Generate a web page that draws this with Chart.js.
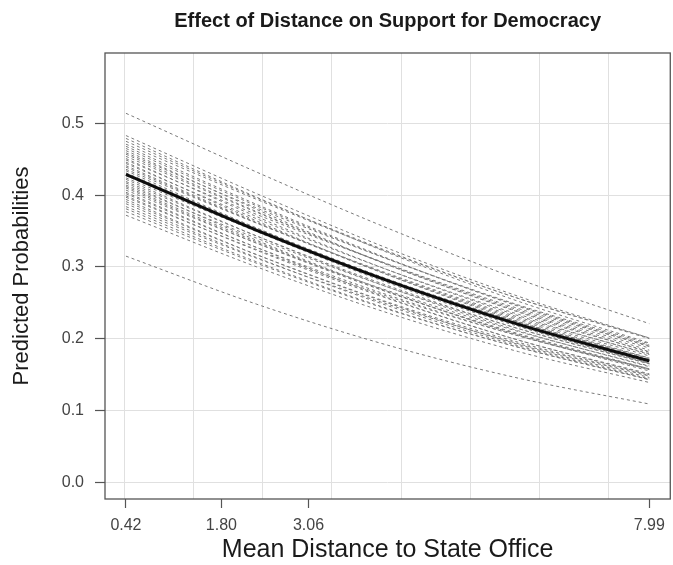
<!DOCTYPE html>
<html>
<head>
<meta charset="utf-8">
<script src="https://cdn.jsdelivr.net/npm/chart.js@4.4.1/dist/chart.umd.min.js"></script>
<style>
  html, body { margin: 0; padding: 0; background: #ffffff; }
  #wrap { width: 673px; height: 565px; position: relative; }
</style>
</head>
<body>
<div id="wrap"><canvas id="c" width="673" height="565"></canvas></div>
<script>
// ---- data ----
const chartTitle = "Effect of Distance on Support for Democracy";
const xAxisTitle = "Mean Distance to State Office";
const yAxisTitle = "Predicted Probabilities";

const xPoints = [0.42, 2.3125, 4.205, 6.0975, 7.99];
const meanProbabilities = [0.429, 0.351, 0.281, 0.220, 0.169];

const simulatedProbabilities = [
  [0.514, 0.432, 0.354, 0.283, 0.221],
  [0.483, 0.402, 0.326, 0.259, 0.201],
  [0.479, 0.397, 0.320, 0.252, 0.194],
  [0.475, 0.396, 0.322, 0.256, 0.200],
  [0.471, 0.394, 0.321, 0.256, 0.201],
  [0.468, 0.387, 0.312, 0.245, 0.189],
  [0.465, 0.385, 0.311, 0.246, 0.191],
  [0.462, 0.380, 0.303, 0.237, 0.181],
  [0.459, 0.382, 0.311, 0.247, 0.193],
  [0.457, 0.377, 0.303, 0.238, 0.184],
  [0.454, 0.376, 0.304, 0.240, 0.187],
  [0.451, 0.370, 0.296, 0.232, 0.178],
  [0.449, 0.373, 0.304, 0.242, 0.190],
  [0.446, 0.364, 0.289, 0.224, 0.170],
  [0.444, 0.367, 0.296, 0.234, 0.182],
  [0.441, 0.362, 0.289, 0.226, 0.173],
  [0.439, 0.361, 0.290, 0.228, 0.176],
  [0.436, 0.361, 0.291, 0.230, 0.179],
  [0.434, 0.354, 0.281, 0.218, 0.166],
  [0.431, 0.354, 0.283, 0.222, 0.170],
  [0.429, 0.353, 0.283, 0.223, 0.172],
  [0.427, 0.349, 0.278, 0.217, 0.166],
  [0.424, 0.350, 0.282, 0.223, 0.173],
  [0.422, 0.343, 0.272, 0.211, 0.161],
  [0.419, 0.343, 0.274, 0.214, 0.165],
  [0.417, 0.337, 0.266, 0.205, 0.155],
  [0.414, 0.340, 0.272, 0.214, 0.165],
  [0.412, 0.335, 0.265, 0.206, 0.157],
  [0.410, 0.333, 0.265, 0.207, 0.158],
  [0.407, 0.333, 0.267, 0.210, 0.162],
  [0.404, 0.327, 0.257, 0.198, 0.150],
  [0.402, 0.327, 0.261, 0.204, 0.157],
  [0.399, 0.323, 0.256, 0.198, 0.151],
  [0.397, 0.324, 0.259, 0.204, 0.158],
  [0.394, 0.317, 0.250, 0.192, 0.146],
  [0.391, 0.317, 0.251, 0.195, 0.149],
  [0.388, 0.313, 0.246, 0.190, 0.144],
  [0.384, 0.312, 0.248, 0.193, 0.148],
  [0.381, 0.307, 0.242, 0.188, 0.143],
  [0.377, 0.305, 0.241, 0.188, 0.143],
  [0.372, 0.300, 0.236, 0.182, 0.139],
  [0.315, 0.248, 0.191, 0.145, 0.109]
];

const xTickValues = [0.42, 1.80, 3.06, 7.99];
const xGridValues = [0.4, 1.4, 2.4, 3.4, 4.4, 5.4, 6.4, 7.4];
const yTickValues = [0.0, 0.1, 0.2, 0.3, 0.4, 0.5];
const xRange = [0.117, 8.293];
const yRange = [-0.0233, 0.598];

// ---- build datasets ----
function toPoints(vals) { return xPoints.map((x, i) => ({ x: x, y: vals[i] })); }

const datasets = [{
  label: 'Mean',
  data: toPoints(meanProbabilities),
  borderColor: '#0d0d0d',
  borderWidth: 3,
  pointRadius: 0,
  cubicInterpolationMode: 'monotone',
  order: 0
}];
simulatedProbabilities.forEach((s, i) => {
  datasets.push({
    label: 'Sim ' + (i + 1),
    data: toPoints(s),
    borderColor: '#7a7a7a',
    borderWidth: 1,
    borderDash: [3, 3],
    pointRadius: 0,
    cubicInterpolationMode: 'monotone',
    order: 1
  });
});

const FONT = "'Liberation Sans', Arial, Helvetica, sans-serif";

const boxPlugin = {
  id: 'box',
  afterDatasetsDraw(chart) {
    const a = chart.chartArea, ctx = chart.ctx;
    ctx.save();
    ctx.strokeStyle = '#555555';
    ctx.lineWidth = 1.3;
    ctx.strokeRect(a.left, a.top, a.right - a.left, a.bottom - a.top);
    ctx.restore();
  }
};

new Chart(document.getElementById('c'), {
  type: 'line',
  data: { datasets: datasets },
  options: {
    responsive: false,
    animation: false,
    events: [],
    layout: { padding: { left: 0, right: 2, top: 0, bottom: 0 } },
    plugins: {
      legend: { display: false },
      tooltip: { enabled: false },
      title: {
        display: true,
        fullSize: false,
        text: chartTitle,
        color: '#1a1a1a',
        font: { family: FONT, size: 20, weight: 'bold' },
        padding: { top: 9, bottom: 20 }
      }
    },
    scales: {
      x: {
        type: 'linear',
        position: 'bottom',
        min: xRange[0], max: xRange[1],
        afterBuildTicks: (s) => { s.ticks = xTickValues.map(v => ({ value: v })); },
        afterFit: (s) => { s.height = 66; },
        ticks: {
          color: '#444444',
          font: { family: FONT, size: 16 },
          padding: 8,
          maxRotation: 0,
          autoSkip: false,
          callback: (v) => Number(v).toFixed(2)
        },
        grid: { drawOnChartArea: false, drawTicks: true, tickLength: 9, tickColor: '#555555', tickWidth: 1.2 },
        border: { display: false },
        title: {
          display: true,
          text: xAxisTitle,
          color: '#1a1a1a',
          font: { family: FONT, size: 25 },
          padding: { top: 0, bottom: 0 }
        }
      },
      xg: {
        type: 'linear',
        position: 'top',
        min: xRange[0], max: xRange[1],
        afterBuildTicks: (s) => { s.ticks = xGridValues.map(v => ({ value: v })); },
        afterFit: (s) => { s.height = 0; },
        ticks: { display: false },
        grid: { drawTicks: false, color: '#e0e0e0', lineWidth: 1, borderDash: [1, 2] },
        border: { display: false }
      },
      y: {
        type: 'linear',
        position: 'left',
        min: yRange[0], max: yRange[1],
        afterBuildTicks: (s) => { s.ticks = yTickValues.map(v => ({ value: v })); },
        afterFit: (s) => { s.width = 105; },
        ticks: {
          color: '#444444',
          font: { family: FONT, size: 16 },
          padding: 11,
          autoSkip: false,
          callback: (v) => Number(v).toFixed(1)
        },
        grid: { drawOnChartArea: true, color: '#e0e0e0', lineWidth: 1, borderDash: [1, 2], drawTicks: true, tickLength: 10, tickColor: '#555555', tickWidth: 1.2, tickBorderDash: [] },
        border: { display: false },
        title: {
          display: true,
          text: yAxisTitle,
          color: '#1a1a1a',
          font: { family: FONT, size: 22 },
          padding: { top: 9, bottom: 0 }
        }
      }
    }
  },
  plugins: [boxPlugin]
});
</script>
</body>
</html>
